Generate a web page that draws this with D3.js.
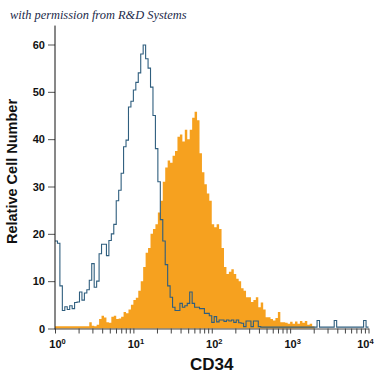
<!DOCTYPE html>
<html>
<head>
<meta charset="utf-8">
<script src="https://cdn.jsdelivr.net/npm/d3@7"></script>
<style>
	body { margin: 0; background: #fff; }
	svg { display: block; }
	.lbl { font-family: "Liberation Sans Narrow", "Liberation Sans", Arial, sans-serif; font-weight: bold; fill: #111; }
	.credit { font-family: "Liberation Serif", "DejaVu Serif", serif; font-style: italic; fill: #1c2a4a; }
</style>
</head>
<body>
<svg id="chart" width="375" height="375"></svg>
<script>

//------------------------------------------------------------------------------
// Data (32 channels per decade, 10^0 .. 10^4)

var binsPerDecade = 32;
var decades = [1, 10, 100, 1000, 10000];
var yTicks = [0, 10, 20, 30, 40, 50, 60];

// isotype control (open line)
var control = [
	18.5, 18, 9, 3.8, 4.6, 4.0, 4.8, 4.2, 5.5, 5.6,
	7.7, 6, 7.5, 8.2, 10.2, 13.7, 8.7, 10, 15.8, 17.8,
	17.8, 15.4, 18.6, 20, 22, 27, 29.2, 32.8, 38.4, 39.8,
	46.8, 48, 50.4, 52, 54, 58, 59.9, 57, 55, 51,
	45, 38, 31, 23, 18.5, 13.5, 9, 6.6, 4.5, 3.8,
	3.8, 5.3, 4.5, 4.8, 5.3, 7.7, 5.3, 4.5, 4.5, 4.2,
	4.2, 3.2, 3.2, 2.7, 1.3, 2.5, 1.4, 1.8, 1.8, 1.5,
	1.8, 1.6, 1.8, 1.3, 1.8, 1.2, 1.1, 0.4, 1.6, 1.6,
	0.4, 1.6, 1.6, 0.4, 0.3, 0.3, 0.3, 0.3, 0.3, 0.3,
	0.3, 0.3, 0.3, 0.3, 0.3, 0.3, 0.3, 0.3, 0.3, 0.3,
	0.3, 0.3, 0.3, 0.3, 0.3, 0.3, 0.3, 1.7, 0.3, 0.3,
	0.3, 0.3, 0.3, 0.3, 1.7, 0.3, 0.3, 0.3, 0.3, 0.3,
	0.3, 0.3, 0.3, 0.3, 0.3, 0.3, 1.7, 0.3
];

// CD34 stained (filled)
var stained = [
	0.5, 0.5, 0.5, 0.5, 0.5, 0.5, 0.5, 0.5, 0.5, 0.5,
	0.5, 0.5, 0.5, 0.5, 1.3, 0.6, 0.5, 0.8, 2, 2.7,
	2.3, 1.3, 1.2, 2.5, 2.7, 2.0, 2.1, 2.5, 3.5, 3.2,
	4, 5, 6, 6.5, 8, 10, 13, 16, 17, 20,
	21, 22, 24.5, 27, 31, 34, 35.5, 35, 36.5, 37.5,
	40.5, 41, 39.5, 42, 40, 42, 44.5, 45.8, 44, 37,
	33, 30.5, 28.5, 27, 22, 21.4, 22, 21, 17, 13,
	11.5, 12, 12.5, 11.5, 10.5, 10, 8.5, 8, 6.6, 6.6,
	5.6, 6, 6.6, 4.5, 5.5, 4, 2.4, 2.4, 2, 1.7,
	2.2, 3.5, 1.3, 1.3, 1.2, 1, 1.4, 1, 1.5, 1,
	1.6, 1.2, 1.6, 0.8, 1, 0.5, 0, 0, 0, 0,
	0, 0, 0, 0, 0, 0, 0, 0, 0, 0,
	0, 0, 0, 0, 0, 0, 0, 0
];

//------------------------------------------------------------------------------
// Scales

var svg = d3.select('#chart');

var x = d3.scaleLog().domain([1, 10000]).range([55, 368.5]);
var y = d3.scaleLinear().domain([0, 60]).range([328.5, 44.5]);
var yAxisTop = 64;

function edge(i) { return Math.pow(10, i / binsPerDecade); }

function steps(values)
{
	var pts = values.map(function (v, i) { return { x0: edge(i), v: v }; });
	pts.push({ x0: edge(values.length), v: values[values.length - 1] });
	return pts;
}

//------------------------------------------------------------------------------
// Histograms

var area = d3.area()
	.curve(d3.curveStepAfter)
	.x(function (d) { return x(d.x0); })
	.y0(y(0))
	.y1(function (d) { return y(d.v); })
;

var line = d3.line()
	.curve(d3.curveStepAfter)
	.x(function (d) { return x(d.x0); })
	.y(function (d) { return y(d.v); })
;

svg.append('path')
	.attr('d', area(steps(stained)))
	.attr('fill', '#f6a11f')
;

svg.append('path')
	.attr('d', line(steps(control)))
	.attr('fill', 'none')
	.attr('stroke', '#2f5e7e')
	.attr('stroke-width', 1.1)
;

//------------------------------------------------------------------------------
// Axes

var minor = [];
decades.slice(0, -1).forEach(function (d) {
	for (var k = 1; k < 10; k++) minor.push(d * k);
});
minor.push(10000);

var gx = svg.append('g')
	.attr('transform', 'translate(0,' + y(0) + ')')
	.call(d3.axisBottom(x).tickValues(minor).tickSize(5).tickSizeOuter(0).tickFormat(''))
;
gx.select('.domain').attr('stroke', '#444');
gx.selectAll('.tick line').attr('stroke', '#444');

gx.selectAll('.tick')
	.filter(function (d) { return decades.indexOf(d) >= 0; })
	.append('text')
	.attr('class', 'lbl')
	.attr('y', 19)
	.attr('x', 2)
	.attr('text-anchor', 'middle')
	.style('font-size', '11px')
	.each(function (d) {
		var t = d3.select(this);
		t.append('tspan').text('10');
		t.append('tspan')
			.attr('dy', -4)
			.style('font-size', '7.5px')
			.text(Math.round(Math.log10(d)));
		// keep the last label inside the picture
		var b = this.getBBox(), right = x(d) + b.x + b.width;
		if (right > 374) t.attr('x', 2 - (right - 374));
	})
;

var gy = svg.append('g')
	.attr('transform', 'translate(' + x(1) + ',0)')
	.call(d3.axisLeft(y).tickValues(yTicks).tickSize(7).tickFormat(d3.format('d')))
;
gy.select('.domain').remove();
gy.selectAll('.tick line').attr('stroke', '#555');
gy.selectAll('.tick text')
	.attr('class', 'lbl')
	.attr('x', -10)
	.style('font-size', '11px')
;

svg.append('line')
	.attr('x1', x(1)).attr('x2', x(1))
	.attr('y1', y(yAxisTop)).attr('y2', y(0) + 1)
	.attr('stroke', '#111')
;

//------------------------------------------------------------------------------
// Titles

svg.append('text')
	.attr('class', 'lbl')
	.attr('x', (x.range()[0] + x.range()[1]) / 2)
	.attr('y', 370)
	.attr('text-anchor', 'middle')
	.style('font-size', '17px')
	.text('CD34')
;

svg.append('text')
	.attr('class', 'lbl')
	.attr('transform', 'translate(17,' + ((y(0) + y(60)) / 2 - 15) + ') rotate(-90)')
	.attr('text-anchor', 'middle')
	.style('font-size', '14.5px')
	.text('Relative Cell Number')
;

svg.append('text')
	.attr('class', 'credit')
	.attr('x', 10)
	.attr('y', 19)
	.style('font-size', '12.4px')
	.text('with permission from R&D Systems')
;

</script>
</body>
</html>
